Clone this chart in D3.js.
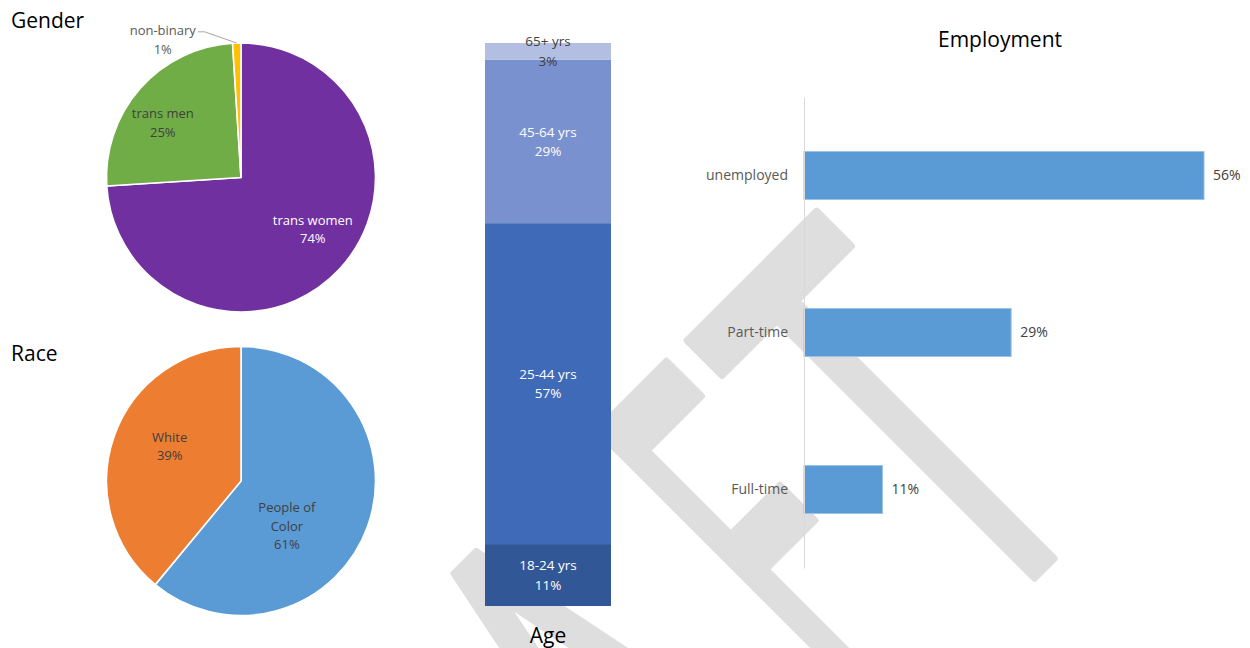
<!DOCTYPE html>
<html>
<head>
<meta charset="utf-8">
<script src="https://cdn.jsdelivr.net/npm/d3@7"></script>
<style>
  html, body { margin: 0; padding: 0; background: #ffffff; }
  svg { display: block; font-family: "Open Sans", "Noto Sans", sans-serif; }
</style>
</head>
<body>
<svg id="chart" width="1250" height="648"></svg>
<script>
// ---- Data -------------------------------------------------------------
const genderCategories = ["trans women", "trans men", "non-binary"];
const genderValues = [74, 25, 1];

const raceCategories = ["People of Color", "White"];
const raceValues = [61, 39];

const ageCategories = ["18-24 yrs", "25-44 yrs", "45-64 yrs", "65+ yrs"];
const ageValues = [11, 57, 29, 3];

const employmentCategories = ["unemployed", "Part-time", "Full-time"];
const employmentValues = [56, 29, 11];

const watermarkText = "DRAFT";

// ---- Setup ------------------------------------------------------------
const svg = d3.select("#chart");
const pct = v => `${v}%`;

// Watermark sits underneath every chart
const wmLayer = svg.append("g").attr("class", "watermark");
const chartLayer = svg.append("g").attr("class", "charts");

// ---- Watermark --------------------------------------------------------
(function drawWatermark() {
  const fontSize = 300;
  // per-glyph pen positions and horizontal squeeze along the rotated baseline
  const glyphX = [-621, -386, -171.5, 93, 245];
  const squeeze = [1, 1, 1, 0.8, 1];
  const text = wmLayer.append("g")
    .attr("transform", "translate(805.5,805.5) rotate(-45) scale(1,1.88)")
    .append("text")
    .attr("y", 0)
    .attr("font-family", "DejaVu Sans")
    .attr("font-size", fontSize)
    .attr("fill", "#dedede")
    .attr("stroke", "#dedede")
    .attr("stroke-width", 5)
    .attr("stroke-linejoin", "round")
    .attr("vector-effect", "non-scaling-stroke");
  watermarkText.split("").forEach((ch, i) => {
    const span = text.append("tspan").attr("x", glyphX[i]).text(ch);
    if (squeeze[i] !== 1) {
      const adv = 1180 / 2048 * fontSize; // advance of "F" in DejaVu Sans
      span.attr("textLength", adv * squeeze[i]).attr("lengthAdjust", "spacingAndGlyphs");
    }
  });
})();

// ---- Pie helper -------------------------------------------------------
function drawPie(cfg) {
  const g = chartLayer.append("g").attr("transform", `translate(${cfg.cx},${cfg.cy})`);
  const rows = cfg.categories.map((c, i) => ({ name: c, value: cfg.values[i] }));
  const arcs = d3.pie().sort(null).value(d => d.value)(rows);
  const arc = d3.arc().innerRadius(0).outerRadius(cfg.r);

  g.selectAll("path.slice").data(arcs).join("path")
    .attr("class", "slice")
    .attr("d", arc)
    .attr("fill", (d, i) => cfg.colors[i])
    .attr("stroke", "#ffffff")
    .attr("stroke-width", 1.6)
    .attr("stroke-linejoin", "round");

  const lineH = 18.5;
  arcs.forEach(d => {
    const place = cfg.labels[d.data.name];
    const lines = place.lines.concat([pct(d.data.value)]);
    let lx, ly;
    if (place.outside) {
      // outside label tied to the slice with a leader line
      const mid = (d.startAngle + d.endAngle) / 2;
      const ax = Math.sin(mid) * cfg.r, ay = -Math.cos(mid) * cfg.r;
      lx = ax + place.dx; ly = ay + place.dy;
      const textRight = lx + place.halfWidth;
      const firstLineY = ly - lineH / 2;
      g.append("polyline")
        .attr("points", [[textRight + 1, firstLineY + 1], [textRight + 8, firstLineY + 1], [ax, ay]].map(p => p.join(",")).join(" "))
        .attr("fill", "none")
        .attr("stroke", "#a6a6a6")
        .attr("stroke-width", 1);
    } else {
      const a = place.angle * Math.PI / 180;
      const rr = place.radius * cfg.r;
      lx = Math.sin(a) * rr; ly = -Math.cos(a) * rr;
    }
    const t = g.append("text")
      .attr("text-anchor", "middle")
      .attr("font-size", 13)
      .attr("fill", place.color);
    lines.forEach((ln, k) => {
      t.append("tspan")
        .attr("x", lx)
        .attr("y", ly + (k - (lines.length - 1) / 2) * lineH)
        .attr("dy", "0.35em")
        .text(ln);
    });
  });

  chartLayer.append("text")
    .attr("x", cfg.titleX).attr("y", cfg.titleY)
    .attr("font-size", 21)
    .attr("fill", "#000000")
    .text(cfg.title);
}

drawPie({
  title: "Gender", titleX: 11, titleY: 28,
  cx: 241, cy: 177.5, r: 134.5,
  categories: genderCategories, values: genderValues,
  colors: ["#7030a0", "#70ad47", "#ffc000"],
  labels: {
    "trans women": { lines: ["trans women"], angle: 126, radius: 0.66, color: "#ffffff" },
    "trans men": { lines: ["trans men"], angle: 305, radius: 0.71, color: "#404040" },
    "non-binary": { lines: ["non-binary"], outside: true, dx: -74, dy: -3, halfWidth: 34, color: "#595959" }
  }
});

drawPie({
  title: "Race", titleX: 11, titleY: 361,
  cx: 241, cy: 481, r: 134.5,
  categories: raceCategories, values: raceValues,
  colors: ["#5b9bd5", "#ed7d31"],
  labels: {
    "People of Color": { lines: ["People of", "Color"], angle: 134.7, radius: 0.48, color: "#404040" },
    "White": { lines: ["White"], angle: 296, radius: 0.59, color: "#404040" }
  }
});

// ---- Age: single stacked column --------------------------------------
(function drawAge() {
  const g = chartLayer.append("g");
  const row = {};
  ageCategories.forEach((c, i) => { row[c] = ageValues[i]; });
  const series = d3.stack().keys(ageCategories)([row]);
  const y = d3.scaleLinear().domain([0, d3.sum(ageValues)]).range([606, 43]);
  const x = d3.scaleBand().domain(["Age"]).range([485, 611]).padding(0);
  const colors = d3.scaleOrdinal().domain(ageCategories)
    .range(["#315797", "#3f6ab7", "#7a91cf", "#b3bfe2"]);
  const textColor = { "65+ yrs": "#404040" };

  g.selectAll("rect.seg").data(series).join("rect")
    .attr("class", "seg")
    .attr("x", x("Age"))
    .attr("width", x.bandwidth())
    .attr("y", s => y(s[0][1]))
    .attr("height", s => y(s[0][0]) - y(s[0][1]))
    .attr("fill", s => colors(s.key));

  series.forEach(s => {
    const cy = (y(s[0][0]) + y(s[0][1])) / 2;
    const t = g.append("text")
      .attr("text-anchor", "middle")
      .attr("font-size", 13.5)
      .attr("fill", textColor[s.key] || "#ffffff");
    [s.key, pct(s[0][1] - s[0][0])].forEach((ln, k) => {
      t.append("tspan")
        .attr("x", x("Age") + x.bandwidth() / 2)
        .attr("y", cy + (k - 0.5) * 19.5)
        .attr("dy", "0.35em")
        .text(ln);
    });
  });

  g.append("text")
    .attr("x", x("Age") + x.bandwidth() / 2)
    .attr("y", 643)
    .attr("text-anchor", "middle")
    .attr("font-size", 21)
    .attr("fill", "#000000")
    .text("Age");
})();

// ---- Employment: horizontal bars --------------------------------------
(function drawEmployment() {
  const g = chartLayer.append("g");
  const x = d3.scaleLinear().domain([0, 60]).range([804, 1232.6]);
  const y = d3.scaleBand().domain(employmentCategories).range([97, 568])
    .paddingInner(0.694).paddingOuter(0.347);

  g.selectAll("rect.bar").data(employmentCategories).join("rect")
    .attr("class", "bar")
    .attr("x", x(0))
    .attr("y", d => y(d))
    .attr("width", (d, i) => x(employmentValues[i]) - x(0))
    .attr("height", y.bandwidth())
    .attr("fill", "#5b9bd5")
    .attr("stroke", "#9dc3e6")
    .attr("stroke-width", 1);

  const axis = g.append("g")
    .attr("transform", `translate(${x(0)},0)`)
    .call(d3.axisLeft(y).tickSize(0).tickPadding(16));
  axis.select(".domain").attr("stroke", "#d9d9d9").attr("stroke-width", 1);
  axis.selectAll(".tick text")
    .attr("font-family", "\"Open Sans\", sans-serif")
    .attr("font-size", 14)
    .attr("fill", "#595959");

  g.selectAll("text.value").data(employmentCategories).join("text")
    .attr("class", "value")
    .attr("x", (d, i) => x(employmentValues[i]) + 9)
    .attr("y", d => y(d) + y.bandwidth() / 2)
    .attr("dy", "0.35em")
    .attr("font-size", 14)
    .attr("fill", "#404040")
    .text((d, i) => pct(employmentValues[i]));

  g.append("text")
    .attr("x", 1000).attr("y", 47)
    .attr("text-anchor", "middle")
    .attr("font-size", 21)
    .attr("fill", "#000000")
    .text("Employment");
})();
</script>
</body>
</html>
